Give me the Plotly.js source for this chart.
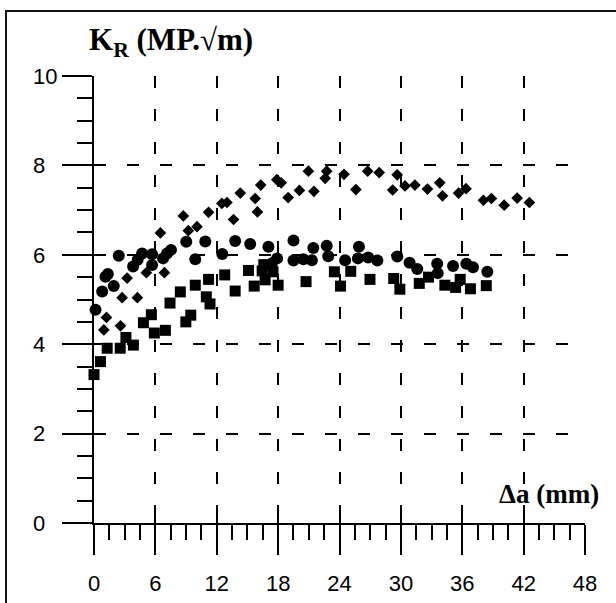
<!DOCTYPE html>
<html>
<head>
<meta charset="utf-8">
<script src="https://cdn.plot.ly/plotly-3.0.1.min.js"></script>
<style>
  html, body { margin: 0; padding: 0; background: #fff; }
  #wrap { position: relative; width: 616px; height: 603px; overflow: hidden; }
  #chart { position: absolute; left: 0; top: 0; width: 616px; height: 603px; }
  #frame { position: absolute; left: 5px; top: 10px; width: 700px; height: 700px;
           border-left: 2px solid #111; border-top: 2px solid #111; pointer-events: none; }
</style>
</head>
<body>
<div id="wrap"><div id="chart"></div><div id="frame"></div></div>
<script>
// Series (Δa in mm, K_R in MPa·√m)
const diamondX = [0.96, 1.22, 2.59, 2.75, 3.24, 4.24, 5.12, 6.49, 6.88, 8.73, 9.22, 10.07, 11.2, 12.5, 13.0, 13.64, 14.3, 15.76, 15.98, 16.3, 17.87, 18.3, 18.98, 20.08, 20.96, 21.5, 22.6, 22.75, 24.44, 25.6, 26.76, 27.88, 29.2, 29.64, 30.4, 31.37, 32.6, 33.8, 34.07, 35.64, 36.37, 38.07, 38.85, 40.1, 41.37, 42.56];
const diamondY = [4.32, 4.60, 4.41, 5.04, 5.48, 5.04, 5.60, 6.49, 5.60, 6.87, 6.54, 6.63, 6.95, 7.15, 7.17, 6.79, 7.38, 7.26, 6.96, 7.56, 7.68, 7.61, 7.28, 7.44, 7.87, 7.42, 7.71, 7.87, 7.80, 7.46, 7.87, 7.84, 7.45, 7.79, 7.54, 7.56, 7.47, 7.61, 7.32, 7.38, 7.48, 7.22, 7.26, 7.11, 7.27, 7.17];

const circleX = [0.15, 0.8, 1.12, 1.35, 1.93, 2.42, 3.82, 4.27, 4.70, 5.68, 5.68, 6.75, 7.14, 7.53, 9.02, 9.90, 10.88, 12.54, 13.8, 15.27, 17.05, 17.4, 17.9, 19.5, 19.5, 20.47, 21.44, 21.3, 22.75, 22.9, 24.55, 25.9, 25.8, 26.8, 27.7, 29.65, 30.85, 31.6, 33.55, 33.6, 35.1, 36.4, 37.05, 38.45];
const circleY = [4.77, 5.18, 5.51, 5.57, 5.30, 5.98, 5.74, 5.89, 6.03, 6.01, 5.77, 5.92, 6.03, 6.11, 6.29, 5.90, 6.30, 6.02, 6.31, 6.24, 6.18, 5.81, 5.92, 6.32, 5.87, 5.90, 6.15, 5.88, 6.20, 5.97, 5.88, 6.18, 5.92, 5.94, 5.87, 5.96, 5.82, 5.68, 5.80, 5.59, 5.75, 5.80, 5.72, 5.62];

const squareX = [0.0, 0.63, 1.29, 2.56, 3.12, 3.85, 4.83, 5.61, 5.90, 6.98, 7.43, 8.44, 8.98, 9.46, 9.90, 10.98, 11.34, 11.2, 12.78, 13.8, 15.1, 15.66, 16.44, 16.6, 16.73, 17.5, 18.0, 20.73, 23.5, 24.1, 25.1, 26.98, 29.3, 29.9, 31.8, 32.7, 34.3, 35.35, 35.8, 36.8, 38.35];
const squareY = [3.32, 3.61, 3.91, 3.91, 4.15, 3.98, 4.48, 4.66, 4.25, 4.31, 4.92, 5.17, 4.50, 4.65, 5.32, 5.06, 4.90, 5.45, 5.55, 5.19, 5.65, 5.30, 5.64, 5.78, 5.44, 5.62, 5.32, 5.40, 5.62, 5.30, 5.63, 5.45, 5.47, 5.23, 5.36, 5.50, 5.32, 5.27, 5.45, 5.24, 5.31];

const xTickVals = [0, 6, 12, 18, 24, 30, 36, 42, 48];
const yTickVals = [0, 2, 4, 6, 8, 10];
// y labels are left-aligned in the reference: pad single digits with a figure space
const yTickText = yTickVals.map(v => String(v).length < 2 ? String(v) + '\u2007' : String(v));

const mk = (x, y, sym, size) => ({
  x: x, y: y, type: 'scatter', mode: 'markers', showlegend: false,
  marker: { symbol: sym, size: size, color: '#000', line: { width: 0 } },
  cliponaxis: false, hoverinfo: 'skip'
});

const data = [
  mk(diamondX, diamondY, 'diamond', 9),
  mk(circleX, circleY, 'circle', 12),
  mk(squareX, squareY, 'square', 11)
];

const tickFont = { family: 'Liberation Sans, Arial, sans-serif', size: 22, color: '#000' };
const gridStyle = { showgrid: true, gridcolor: '#000', gridwidth: 2, griddash: '12px,21px' };

const layout = {
  width: 616, height: 603,
  margin: { l: 93.5, r: 30.5, t: 76, b: 80 },
  paper_bgcolor: '#fff', plot_bgcolor: '#fff',
  showlegend: false,
  xaxis: Object.assign({
    range: [0, 48], autorange: false, fixedrange: true,
    tickmode: 'array', tickvals: xTickVals, ticktext: xTickVals.map(String),
    ticks: 'outside', ticklen: 30, tickwidth: 2, tickcolor: '#000',
    minor: { dtick: 1.5, tick0: 0, ticks: 'outside', ticklen: 15, tickwidth: 2, tickcolor: '#000', showgrid: false },
    showline: true, linecolor: '#000', linewidth: 2,
    zeroline: false, tickfont: tickFont, ticklabelstandoff: 10
  }, gridStyle),
  yaxis: Object.assign({
    range: [0, 10], autorange: false, fixedrange: true,
    tickmode: 'array', tickvals: yTickVals, ticktext: yTickText,
    ticks: 'outside', ticklen: 30, tickwidth: 2, tickcolor: '#000',
    minor: { dtick: 0.5, tick0: 0, ticks: 'outside', ticklen: 15, tickwidth: 2, tickcolor: '#000', showgrid: false },
    showline: true, linecolor: '#000', linewidth: 2,
    zeroline: false, tickfont: tickFont, ticklabelstandoff: 0
  }, gridStyle),
  xaxis2: {
    overlaying: 'x', range: [0, 48], autorange: false, fixedrange: true,
    tickmode: 'array', tickvals: xTickVals, showticklabels: false,
    ticks: 'inside', ticklen: 11, tickwidth: 2, tickcolor: '#000',
    showgrid: false, zeroline: false, showline: false, side: 'bottom'
  },
  yaxis2: {
    overlaying: 'y', range: [0, 10], autorange: false, fixedrange: true,
    tickmode: 'array', tickvals: yTickVals, showticklabels: false,
    ticks: 'inside', ticklen: 12, tickwidth: 2, tickcolor: '#000',
    showgrid: false, zeroline: false, showline: false, side: 'left'
  },
  annotations: [
    { xref: 'paper', yref: 'paper', x: (86 - 93.5) / 492, y: (523 - 42) / 447,
      xanchor: 'left', yanchor: 'middle', showarrow: false,
      text: '<b>K<sub>R</sub> (MP.√m)</b>',
      font: { family: 'Liberation Serif, Times New Roman, serif', size: 31, color: '#000' } },
    { xref: 'paper', yref: 'paper', x: (602 - 93.5) / 492, y: (523 - 494) / 447,
      xanchor: 'right', yanchor: 'middle', showarrow: false,
      text: '<b>Δa (mm)</b>',
      font: { family: 'Liberation Serif, Times New Roman, serif', size: 27, color: '#000' } }
  ]
};

// invisible trace to activate the overlay axes (crossing tick marks)
data.push({ x: [0], y: [0], xaxis: 'x2', yaxis: 'y2', type: 'scatter', mode: 'markers',
            marker: { size: 0, opacity: 0 }, showlegend: false, hoverinfo: 'skip' });

Plotly.newPlot('chart', data, layout, { displayModeBar: false, staticPlot: true });
</script>
</body>
</html>
